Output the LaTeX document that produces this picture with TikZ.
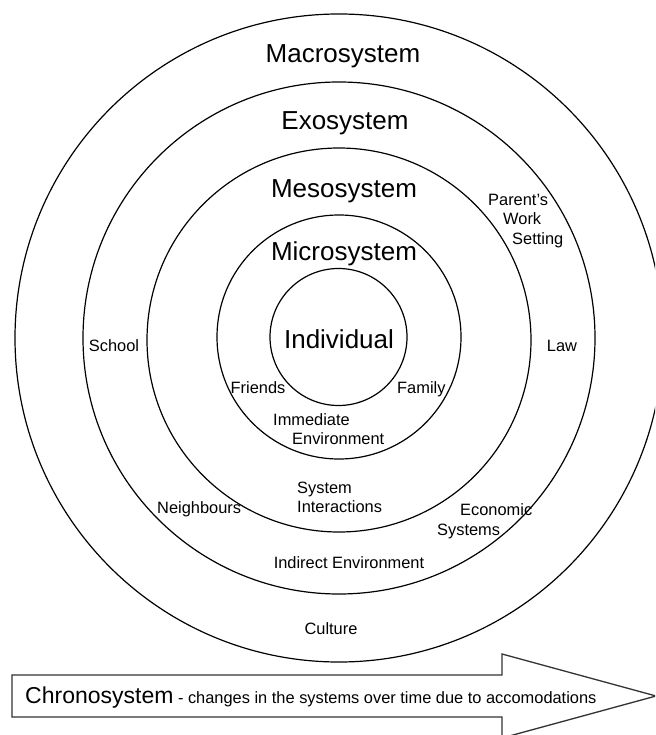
\documentclass[tikz,border=0pt]{standalone}
\usepackage{fontspec}
\setmainfont{Liberation Sans}
\begin{document}
\begin{tikzpicture}[x=1pt,y=-1pt,
  ring/.style={circle,draw=black,line width=1.2pt,inner sep=0pt,minimum size=#1},
  level/.style={inner sep=0pt,anchor=base,font=\fontsize{26}{30}\selectfont},
  small/.style={inner sep=0pt,font=\fontsize{16.4}{20}\selectfont},
  smallw/.style={small,anchor=base west},
  smallc/.style={small,anchor=base}]
% page and clipping
\useasboundingbox (0,0) rectangle (655,735);
\fill[white] (0,0) rectangle (655,735);
\clip (0,0) rectangle (655,735);

% nested system rings
\coordinate (c) at (339,338);
\node[ring=648pt] (macro) at (c) {};
\node[ring=512pt] (exo)   at (c) {};
\node[ring=384pt] (meso)  at (339,340) {};
\node[ring=244pt] (micro) at (339,337) {};
\node[ring=137pt] (indiv) at (338.5,337) {};

% level titles
\node[level] (tmacro) at (343,63)  {Macrosystem};
\node[level] (texo)   at (345,130) {Exosystem};
\node[level] (tmeso)  at (344,197) {Mesosystem};
\node[level] (tmicro) at (344,260) {Microsystem};
\node[level] (tindiv) at (339,348) {Individual};

% exosystem labels
\node[smallw] (pws1) at (488,205) {Parent's};
\node[smallw] (pws2) at (503,225) {Work};
\node[smallw] (pws3) at (512,244) {Setting};
\node[smallc] (law)    at (562,351) {Law};
\node[smallc] (school) at (114,351) {School};
\node[smallw] (neigh)  at (157,513) {Neighbours};
\node[smallw] (econ1)  at (460,515) {Economic};
\node[smallw] (econ2)  at (437,535) {Systems};
\node[smallc] (indirect) at (349,568) {Indirect Environment};

% microsystem labels
\node[smallc] (friends) at (258,393) {Friends};
\node[smallw] (family)  at (397,393) {Family};
\node[smallw] (imm1) at (273,425) {Immediate};
\node[smallw] (imm2) at (292,444) {Environment};

% mesosystem labels
\node[smallw] (sys1) at (297,493) {System};
\node[smallw] (sys2) at (297,512) {Interactions};

% macrosystem label
\node[smallc] (culture) at (331,634) {Culture};

% chronosystem arrow
\draw[draw=black!80,line width=1.3pt,fill=white,line join=miter]
  (12,675) -- (502,675) -- (502,654) -- (656,696) -- (502,738)
  -- (502,717) -- (12,717) -- cycle;
\node[inner sep=0pt,anchor=base west] (chrono) at (25,703)
  {{\fontsize{23}{26}\selectfont Chronosystem}\fontsize{16.4}{20}\selectfont{} - changes in the systems over time due to accomodations};
\end{tikzpicture}
\end{document}
